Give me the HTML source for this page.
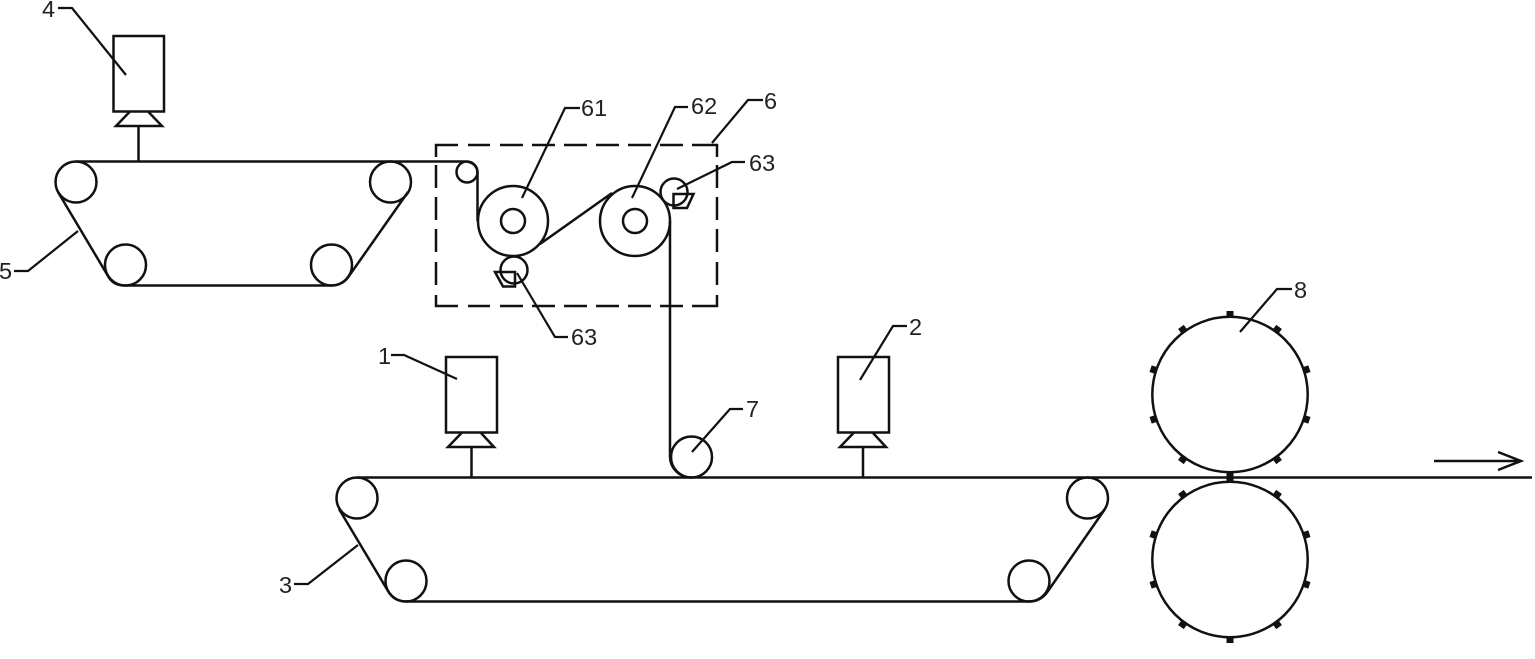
<!DOCTYPE html>
<html><head><meta charset="utf-8"><style>
html,body{margin:0;padding:0;background:#fff;width:1535px;height:659px;overflow:hidden}
svg{display:block}
.s{fill:none;stroke:#111;stroke-width:2.5}
.l{fill:none;stroke:#111;stroke-width:2.2}
text{font-family:"Liberation Sans",sans-serif;font-size:23.5px;fill:#222}
</style></head><body>
<svg width="1535" height="659" viewBox="0 0 1535 659" xmlns="http://www.w3.org/2000/svg">
<rect width="1535" height="659" fill="#fff"/>
<g class="s">
<!-- sensor 4 -->
<rect x="113.5" y="36" width="50.5" height="75.5"/>
<path d="M129.5 112L116 126H162L148.5 112M138.5 126V161.5"/>
<!-- sensor 1 -->
<rect x="446" y="357" width="51" height="75.5"/>
<path d="M461.5 433L448 447H494L481 433M471.5 447V477"/>
<!-- sensor 2 -->
<rect x="838" y="357" width="51" height="75.5"/>
<path d="M853.5 433L840 447H886L873 433M863 447V477"/>
<!-- belt 5 -->
<circle cx="76" cy="182" r="20.5"/><circle cx="125.500" cy="265" r="20.5"/>
<circle cx="331.500" cy="265" r="20.5"/><circle cx="390.500" cy="182" r="20.5"/>
<path d="M76 161.500H465"/>
<path d="M58 192L108 276Q113 285.500 125 285.500H331Q343 285.500 349 276L408 192"/>
<!-- film path -->
<path d="M465 161.500C472 161.500 477.500 166 477.500 173V221"/>
<circle cx="467" cy="172" r="10.500"/>
<circle cx="513" cy="221" r="35"/><circle cx="513" cy="221" r="12"/>
<circle cx="635" cy="221" r="35"/><circle cx="635" cy="221" r="12"/>
<path d="M540 244L612 193"/>
<path d="M670 221V457A21 21 0 0 0 691 477.500"/>
<circle cx="514" cy="270" r="13.500"/>
<path d="M495 272H515V286.500H503Z"/>
<circle cx="674" cy="192" r="13.500"/>
<path d="M673.500 194H693.500L687 208H673.500Z"/>
<circle cx="691.500" cy="457" r="20.500"/>
<!-- belt 3 -->
<circle cx="357" cy="498" r="20.500"/><circle cx="406" cy="581" r="20.500"/>
<circle cx="1029" cy="581" r="20.500"/><circle cx="1087.500" cy="498" r="20.500"/>
<path d="M357 477.500H1532"/>
<path d="M339 509L388 591Q394 601.500 406 601.500H1029Q1041 601.500 1048 591L1105 509"/>
<!-- rollers 8 -->
<circle cx="1230" cy="394.500" r="77.700"/>
<circle cx="1230" cy="559.500" r="77.700"/>
<!-- arrow -->
<path d="M1434 461H1520M1498 452L1521 461L1498 470"/>
<!-- dashed frame -->
<path d="M436 157V145H458M468 145H490M500 145H523M532 145H555M564 145H587M596 145H619M628 145H651M660 145H683M692 145H717V157"/>
<path d="M436 295V306H458M468 306H490M500 306H523M532 306H555M564 306H587M596 306H619M628 306H651M660 306H683M692 306H717V295"/>
<path d="M436 165V188M436 197V220M436 229V252M436 262V285"/>
<path d="M717 165V188M717 197V220M717 229V252M717 262V285"/>
</g>
<!-- teeth -->
<g fill="#111">
<rect x="1226.500" y="311" width="7" height="7" transform="rotate(0 1230 394.500)"/>
<rect x="1226.500" y="311" width="7" height="7" transform="rotate(36 1230 394.500)"/>
<rect x="1226.500" y="311" width="7" height="7" transform="rotate(72 1230 394.500)"/>
<rect x="1226.500" y="311" width="7" height="7" transform="rotate(108 1230 394.500)"/>
<rect x="1226.500" y="311" width="7" height="7" transform="rotate(144 1230 394.500)"/>
<rect x="1226.500" y="311" width="7" height="7" transform="rotate(180 1230 394.500)"/>
<rect x="1226.500" y="311" width="7" height="7" transform="rotate(216 1230 394.500)"/>
<rect x="1226.500" y="311" width="7" height="7" transform="rotate(252 1230 394.500)"/>
<rect x="1226.500" y="311" width="7" height="7" transform="rotate(288 1230 394.500)"/>
<rect x="1226.500" y="311" width="7" height="7" transform="rotate(324 1230 394.500)"/>
<rect x="1226.500" y="476" width="7" height="7" transform="rotate(0 1230 559.500)"/>
<rect x="1226.500" y="476" width="7" height="7" transform="rotate(36 1230 559.500)"/>
<rect x="1226.500" y="476" width="7" height="7" transform="rotate(72 1230 559.500)"/>
<rect x="1226.500" y="476" width="7" height="7" transform="rotate(108 1230 559.500)"/>
<rect x="1226.500" y="476" width="7" height="7" transform="rotate(144 1230 559.500)"/>
<rect x="1226.500" y="476" width="7" height="7" transform="rotate(180 1230 559.500)"/>
<rect x="1226.500" y="476" width="7" height="7" transform="rotate(216 1230 559.500)"/>
<rect x="1226.500" y="476" width="7" height="7" transform="rotate(252 1230 559.500)"/>
<rect x="1226.500" y="476" width="7" height="7" transform="rotate(288 1230 559.500)"/>
<rect x="1226.500" y="476" width="7" height="7" transform="rotate(324 1230 559.500)"/>
</g>
<!-- leaders -->
<g class="l">
<path d="M58 8H72L126 75"/>
<path d="M14 271H28L78 231"/>
<path d="M580 108H565L522 198"/>
<path d="M688 107H675L632 198"/>
<path d="M763 100H748L712 143"/>
<path d="M745 162H732L677 189"/>
<path d="M568 337H555L517 273"/>
<path d="M1292 289H1277L1240 332"/>
<path d="M743 409H730L692 452"/>
<path d="M907 326H893L860 380"/>
<path d="M391 355H404L457 379"/>
<path d="M294 584H308L358 545"/>
</g>
<!-- labels -->
<text x="42" y="17">4</text>
<text x="-1" y="279">5</text>
<text x="581" y="116">61</text>
<text x="691" y="114">62</text>
<text x="764" y="109">6</text>
<text x="749" y="171">63</text>
<text x="571" y="345">63</text>
<text x="1294" y="298">8</text>
<text x="746" y="417">7</text>
<text x="909" y="335">2</text>
<text x="378" y="364">1</text>
<text x="279" y="593">3</text>
</svg>
</body></html>
